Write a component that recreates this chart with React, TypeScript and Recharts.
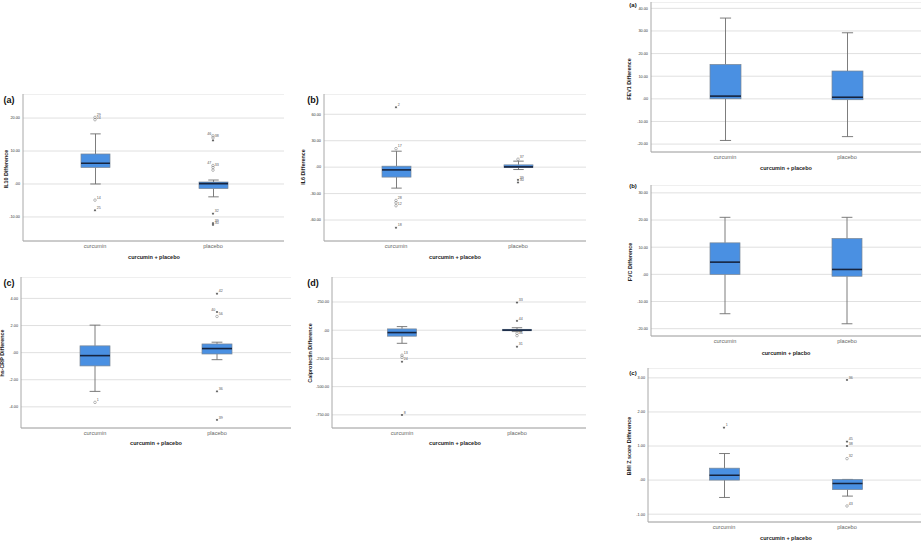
import React from 'react';
import { ComposedChart, Bar, Scatter, XAxis, YAxis, CartesianGrid } from 'recharts';

const FONT = '"Liberation Sans", Arial, sans-serif';

const groups = ['curcumin', 'placebo'];

// five-number summaries per group: [lower whisker, Q1, median, Q3, upper whisker]
const il10Curcumin = [0, 5.0, 6.3, 9.1, 15.2];
const il10Placebo = [-3.9, -1.4, 0.1, 0.6, 1.2];
const il6Curcumin = [-23.8, -11.3, -3.1, 1.1, 18.1];
const il6Placebo = [-2.7, -0.4, 0.3, 2.6, 6.8];
const crpCurcumin = [-2.86, -0.98, -0.22, 0.5, 2.03];
const crpPlacebo = [-0.52, -0.1, 0.3, 0.64, 0.77];
const calCurcumin = [-116, -53, -21, 11.6, 32];
const calPlacebo = [-12, -5, 1, 8, 22];
const fev1Curcumin = [-18.4, 0, 1.2, 15.2, 35.7];
const fev1Placebo = [-16.7, -0.4, 0.7, 12.3, 29.2];
const fvcCurcumin = [-14.5, 0, 4.5, 11.6, 21];
const fvcPlacebo = [-18.2, -0.7, 1.8, 13.2, 21];
const bmiCurcumin = [-0.51, 0, 0.14, 0.35, 0.78];
const bmiPlacebo = [-0.47, -0.28, -0.1, 0.02, 0.02];

type Outlier = { group: string; value: number; id: string; extreme: boolean };

const il10Outliers: Outlier[] = [
  { group: 'curcumin', value: 20.2, id: '29', extreme: false },
  { group: 'curcumin', value: 19.5, id: '24', extreme: false },
  { group: 'curcumin', value: -4.9, id: '14', extreme: false },
  { group: 'curcumin', value: -8.0, id: '25', extreme: true },
  { group: 'placebo', value: 14.6, id: '46', extreme: false },
  { group: 'placebo', value: 14.0, id: '38', extreme: false },
  { group: 'placebo', value: 13.2, id: '', extreme: true },
  { group: 'placebo', value: 5.6, id: '47', extreme: false },
  { group: 'placebo', value: 5.0, id: '33', extreme: false },
  { group: 'placebo', value: 4.2, id: '', extreme: false },
  { group: 'placebo', value: -9.0, id: '32', extreme: true },
  { group: 'placebo', value: -11.9, id: '39', extreme: true },
  { group: 'placebo', value: -12.4, id: '30', extreme: true },
];
const il6Outliers: Outlier[] = [
  { group: 'curcumin', value: 67.9, id: '2', extreme: true },
  { group: 'curcumin', value: 21, id: '17', extreme: false },
  { group: 'curcumin', value: -37.8, id: '28', extreme: false },
  { group: 'curcumin', value: -40.5, id: '', extreme: false },
  { group: 'curcumin', value: -43.8, id: '12', extreme: false },
  { group: 'curcumin', value: -68.7, id: '18', extreme: true },
  { group: 'placebo', value: 9, id: '37', extreme: false },
  { group: 'placebo', value: -14.4, id: '39', extreme: true },
  { group: 'placebo', value: -17.4, id: '30', extreme: true },
];
const crpOutliers: Outlier[] = [
  { group: 'curcumin', value: -3.67, id: '1', extreme: false },
  { group: 'placebo', value: 4.35, id: '42', extreme: true },
  { group: 'placebo', value: 3.0, id: '40', extreme: true },
  { group: 'placebo', value: 2.67, id: '56', extreme: false },
  { group: 'placebo', value: -2.86, id: '36', extreme: true },
  { group: 'placebo', value: -4.96, id: '39', extreme: true },
];
const calOutliers: Outlier[] = [
  { group: 'curcumin', value: -222, id: '13', extreme: false },
  { group: 'curcumin', value: -240, id: '', extreme: false },
  { group: 'curcumin', value: -279, id: '24', extreme: true },
  { group: 'curcumin', value: -751, id: '8', extreme: true },
  { group: 'placebo', value: 245, id: '33', extreme: true },
  { group: 'placebo', value: 83, id: '44', extreme: true },
  { group: 'placebo', value: -27, id: '', extreme: false },
  { group: 'placebo', value: -48, id: '36', extreme: false },
  { group: 'placebo', value: -146, id: '31', extreme: true },
];
const bmiOutliers: Outlier[] = [
  { group: 'curcumin', value: 1.54, id: '1', extreme: true },
  { group: 'placebo', value: 2.94, id: '36', extreme: true },
  { group: 'placebo', value: 1.13, id: '45', extreme: true },
  { group: 'placebo', value: 1.0, id: '38', extreme: true },
  { group: 'placebo', value: 0.63, id: '32', extreme: false },
  { group: 'placebo', value: -0.76, id: '43', extreme: false },
];

const il10Ticks = [-10, 0, 10, 20];
const il6Ticks = [-60, -30, 0, 30, 60];
const crpTicks = [-4, -2, 0, 2, 4];
const calTicks = [-750, -500, -250, 0, 250];
const fev1Ticks = [-20, -10, 0, 10, 20, 30, 40];
const fvcTicks = [-20, -10, 0, 10, 20, 30];
const bmiTicks = [-1, 0, 1, 2, 3];

type Spec = {
  letter: string;
  yTitle: string;
  xTitle: string;
  boxes: number[][];
  outliers: Outlier[];
  ticks: number[];
  domain: [number, number];
  x0: number; x1: number; y0: number; y1: number;
  c1: number; c2: number; barSize: number;
  letterPos: [number, number]; letterSize: number;
  yTitlePos: [number, number];
  xTitlePos: [number, number];
  leftLabels: string[];
};

const specs: Spec[] = [
  {
    letter: '(a)', yTitle: 'IL10 Difference', xTitle: 'curcumin + placebo',
    boxes: [il10Curcumin, il10Placebo], outliers: il10Outliers, ticks: il10Ticks, domain: [-17.3, 27.3],
    x0: 23, x1: 284, y0: 94, y1: 241, c1: 95, c2: 213, barSize: 29,
    letterPos: [9, 100], letterSize: 9, yTitlePos: [7, 169], xTitlePos: [154, 258],
    leftLabels: ['placebo:46', 'placebo:47'],
  },
  {
    letter: '(b)', yTitle: 'IL6 Difference', xTitle: 'curcumin + placebo',
    boxes: [il6Curcumin, il6Placebo], outliers: il6Outliers, ticks: il6Ticks, domain: [-83.8, 83],
    x0: 324, x1: 586, y0: 94, y1: 241, c1: 396, c2: 518, barSize: 29,
    letterPos: [313, 100], letterSize: 9, yTitlePos: [304, 167], xTitlePos: [455, 258],
    leftLabels: [],
  },
  {
    letter: '(c)', yTitle: 'hs-CRP Difference', xTitle: 'curcumin + placebo',
    boxes: [crpCurcumin, crpPlacebo], outliers: crpOutliers, ticks: crpTicks, domain: [-5.56, 5.58],
    x0: 21, x1: 291, y0: 277, y1: 428, c1: 95, c2: 217, barSize: 30,
    letterPos: [9, 283], letterSize: 9, yTitlePos: [3, 353], xTitlePos: [156, 444],
    leftLabels: ['placebo:40'],
  },
  {
    letter: '(d)', yTitle: 'Calprotectin Difference', xTitle: 'curcumin + placebo',
    boxes: [calCurcumin, calPlacebo], outliers: calOutliers, ticks: calTicks, domain: [-866.5, 471.5],
    x0: 332, x1: 586, y0: 277, y1: 428, c1: 402, c2: 517, barSize: 29,
    letterPos: [313, 283], letterSize: 9, yTitlePos: [311, 353], xTitlePos: [455, 444],
    leftLabels: [],
  },
  {
    letter: '(a)', yTitle: 'FEV1 Difference', xTitle: 'curcumin + placebo',
    boxes: [fev1Curcumin, fev1Placebo], outliers: [], ticks: fev1Ticks, domain: [-23.5, 42.8],
    x0: 651, x1: 921, y0: 2, y1: 152, c1: 725, c2: 847, barSize: 31,
    letterPos: [633, 5], letterSize: 6, yTitlePos: [630, 79], xTitlePos: [786, 169],
    leftLabels: [],
  },
  {
    letter: '(b)', yTitle: 'FVC Difference', xTitle: 'curcumin + placbo',
    boxes: [fvcCurcumin, fvcPlacebo], outliers: [], ticks: fvcTicks, domain: [-22.7, 32.9],
    x0: 651, x1: 921, y0: 185, y1: 336, c1: 725, c2: 847, barSize: 30,
    letterPos: [633, 186], letterSize: 6, yTitlePos: [631, 262], xTitlePos: [786, 354],
    leftLabels: [],
  },
  {
    letter: '(c)', yTitle: 'BMI Z score Difference', xTitle: 'curcumin + placebo',
    boxes: [bmiCurcumin, bmiPlacebo], outliers: bmiOutliers, ticks: bmiTicks, domain: [-1.23, 3.29],
    x0: 648, x1: 921, y0: 368, y1: 522, c1: 724, c2: 847, barSize: 30,
    letterPos: [633, 373], letterSize: 6, yTitlePos: [630, 446], xTitlePos: [786, 539],
    leftLabels: [],
  },
];

const fmt = (v: number) => (v === 0 ? '.00' : v.toFixed(2));

const BoxShape = (props: any) => {
  const { x, y, width, height, payload } = props;
  if (!payload || x == null) return null;
  const [lo, q1, med, q3, hi] = payload.stats as number[];
  const top = Math.min(y, y + height);
  const h = Math.abs(height);
  const k = hi === lo ? 0 : h / (hi - lo);
  const py = (v: number) => top + (hi - v) * k;
  const cx = x + width / 2;
  const cap = width * 0.18;
  const ws = '#6e6e6e';
  return (
    <g>
      <line x1={cx} x2={cx} y1={py(hi)} y2={py(q3)} stroke={ws} strokeWidth={0.9} />
      <line x1={cx} x2={cx} y1={py(q1)} y2={py(lo)} stroke={ws} strokeWidth={0.9} />
      <line x1={cx - cap} x2={cx + cap} y1={py(hi)} y2={py(hi)} stroke={ws} strokeWidth={0.9} />
      <line x1={cx - cap} x2={cx + cap} y1={py(lo)} y2={py(lo)} stroke={ws} strokeWidth={0.9} />
      <rect x={x} y={py(q3)} width={width} height={Math.max(0.5, py(q1) - py(q3))} fill="#4a90e2" stroke="#7a8694" strokeWidth={0.7} />
      <line x1={x} x2={x + width} y1={py(med)} y2={py(med)} stroke="#16243f" strokeWidth={1.6} />
    </g>
  );
};

const makeOutlierShape = (leftLabels: string[]) => (props: any) => {
  const { cx, cy, payload } = props;
  if (cx == null || cy == null) return null;
  const s = 1.1;
  const left = leftLabels.includes(`${payload.group}:${payload.id}`);
  return (
    <g>
      {payload.extreme ? (
        <g stroke="#333" strokeWidth={0.55}>
          <line x1={cx - s} x2={cx + s} y1={cy} y2={cy} />
          <line x1={cx - s * 0.5} x2={cx + s * 0.5} y1={cy - s * 0.87} y2={cy + s * 0.87} />
          <line x1={cx - s * 0.5} x2={cx + s * 0.5} y1={cy + s * 0.87} y2={cy - s * 0.87} />
        </g>
      ) : (
        <circle cx={cx} cy={cy} r={1.3} fill="none" stroke="#777" strokeWidth={0.5} />
      )}
      {payload.id ? (
        <text
          x={left ? cx - 1.8 : cx + 1.8}
          y={cy - 1.2}
          textAnchor={left ? 'end' : 'start'}
          fontSize={3.6}
          fill="#555"
          fontFamily={FONT}
        >
          {payload.id}
        </text>
      ) : null}
    </g>
  );
};

function Panel({ spec }: { spec: Spec }) {
  const W = 26;
  const H = 14;
  const plotW = spec.x1 - spec.x0;
  const plotH = spec.y1 - spec.y0;
  const half = (spec.c2 - spec.c1) / 2;
  const padL = spec.c1 - half - spec.x0;
  const padR = spec.x1 - (spec.c2 + half);
  const data = groups.map((g, i) => ({
    group: g,
    lo: spec.boxes[i][0],
    hi: spec.boxes[i][4],
    stats: spec.boxes[i],
  }));
  const OutlierShape = makeOutlierShape(spec.leftLabels);
  return (
    <div style={{ position: 'absolute', left: spec.x0 - W, top: spec.y0 }}>
      <ComposedChart width={W + plotW} height={plotH + H} data={data} margin={{ top: 0, right: 0, bottom: 0, left: 0 }}>
        <CartesianGrid vertical={false} stroke="#dcdcdc" strokeWidth={0.9} />
        <XAxis
          dataKey="group"
          type="category"
          allowDuplicatedCategory={false}
          padding={{ left: padL, right: padR }}
          tickLine={false}
          tickSize={0}
          tickMargin={3}
          height={H}
          interval={0}
          axisLine={{ stroke: '#a8a8a8', strokeWidth: 1 }}
          tick={{ fontSize: 5.6, fill: '#666', fontFamily: FONT }}
        />
        <YAxis
          type="number"
          domain={spec.domain}
          ticks={spec.ticks}
          allowDataOverflow
          width={W}
          interval={0}
          tickLine={false}
          tickSize={0}
          tickMargin={3}
          axisLine={{ stroke: '#a8a8a8', strokeWidth: 1 }}
          tick={{ fontSize: 3.8, fill: '#333', fontFamily: FONT }}
          tickFormatter={fmt}
        />
        <Bar dataKey={(d: any) => [d.lo, d.hi]} barSize={spec.barSize} shape={<BoxShape />} isAnimationActive={false} />
        {spec.outliers.length > 0 ? (
          <Scatter data={spec.outliers} dataKey="value" shape={OutlierShape} isAnimationActive={false} />
        ) : null}
      </ComposedChart>
    </div>
  );
}

const centered = (x: number, y: number, extra: React.CSSProperties = {}): React.CSSProperties => ({
  position: 'absolute',
  left: x,
  top: y,
  transform: 'translate(-50%, -50%)',
  whiteSpace: 'nowrap',
  fontFamily: FONT,
  lineHeight: 1,
  ...extra,
});

export default function App() {
  return (
    <div style={{ position: 'absolute', left: 0, top: 0, width: 921, height: 542, background: '#fff', overflow: 'hidden' }}>
      {specs.map((s, i) => (
        <React.Fragment key={i}>
          <Panel spec={s} />
          <div style={centered(s.letterPos[0], s.letterPos[1], { fontSize: s.letterSize, fontWeight: 'bold', color: '#111' })}>{s.letter}</div>
          <div
            style={centered(s.yTitlePos[0], s.yTitlePos[1], {
              fontSize: 5.4,
              fontWeight: 'bold',
              color: '#222',
              transform: 'translate(-50%, -50%) rotate(-90deg)',
            })}
          >
            {s.yTitle}
          </div>
          <div style={centered(s.xTitlePos[0], s.xTitlePos[1], { fontSize: 5.5, fontWeight: 'bold', color: '#222' })}>{s.xTitle}</div>
        </React.Fragment>
      ))}
    </div>
  );
}
